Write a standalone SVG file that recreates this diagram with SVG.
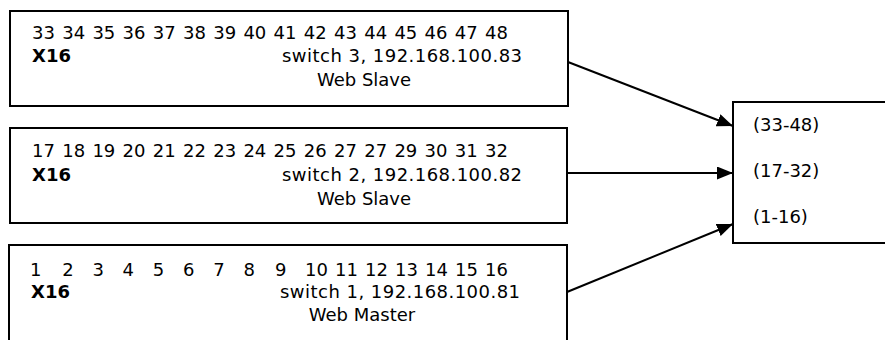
<svg xmlns="http://www.w3.org/2000/svg" width="885" height="340" viewBox="0 0 885 340">
<style>
.box{fill:#fff;stroke:#000;stroke-width:2}
.t{font-family:"DejaVu Sans","Verdana",sans-serif;font-size:18px;fill:#000}
.b{font-weight:bold}
.m{text-anchor:middle}
.c{stroke:#000;stroke-width:2;fill:none}
</style>
<defs>
<marker id="ah" markerUnits="userSpaceOnUse" markerWidth="17" markerHeight="14" refX="16" refY="6.5" orient="auto">
<path d="M0,0 L16,6.5 L0,13 z" fill="#000"/>
</marker>
</defs>
<rect width="885" height="340" fill="#fff"/>
<g id="switch3">
<rect class="box" x="10" y="11" width="558" height="95"/>
<text class="t" y="39"><tspan x="32">33</tspan><tspan x="62.2">34</tspan><tspan x="92.4">35</tspan><tspan x="122.6">36</tspan><tspan x="152.8">37</tspan><tspan x="183">38</tspan><tspan x="213.2">39</tspan><tspan x="243.4">40</tspan><tspan x="273.6">41</tspan><tspan x="303.8">42</tspan><tspan x="334">43</tspan><tspan x="364.2">44</tspan><tspan x="394.4">45</tspan><tspan x="424.6">46</tspan><tspan x="454.8">47</tspan><tspan x="485">48</tspan></text>
<text class="t b" x="32" y="62">X16</text>
<text class="t" x="282" y="62" textLength="240" lengthAdjust="spacing">switch 3, 192.168.100.83</text>
<text class="t m" x="364" y="86">Web Slave</text>
</g>
<g id="switch2">
<rect class="box" x="10" y="128" width="557" height="95"/>
<text class="t" y="157"><tspan x="32">17</tspan><tspan x="62.2">18</tspan><tspan x="92.4">19</tspan><tspan x="122.6">20</tspan><tspan x="152.8">21</tspan><tspan x="183">22</tspan><tspan x="213.2">23</tspan><tspan x="243.4">24</tspan><tspan x="273.6">25</tspan><tspan x="303.8">26</tspan><tspan x="334">27</tspan><tspan x="364.2">27</tspan><tspan x="394.4">29</tspan><tspan x="424.6">30</tspan><tspan x="454.8">31</tspan><tspan x="485">32</tspan></text>
<text class="t b" x="32" y="181">X16</text>
<text class="t" x="282" y="181" textLength="240" lengthAdjust="spacing">switch 2, 192.168.100.82</text>
<text class="t m" x="364" y="205">Web Slave</text>
</g>
<g id="switch1">
<rect class="box" x="9" y="245" width="558" height="110"/>
<text class="t" y="276"><tspan x="30">1</tspan><tspan x="62.2">2</tspan><tspan x="92.4">3</tspan><tspan x="122.6">4</tspan><tspan x="152.8">5</tspan><tspan x="183">6</tspan><tspan x="213.2">7</tspan><tspan x="243.4">8</tspan><tspan x="275">9</tspan><tspan x="305">10</tspan><tspan x="335">11</tspan><tspan x="365">12</tspan><tspan x="395">13</tspan><tspan x="425">14</tspan><tspan x="455">15</tspan><tspan x="485">16</tspan></text>
<text class="t b" x="31" y="298">X16</text>
<text class="t" x="280" y="298" textLength="240" lengthAdjust="spacing">switch 1, 192.168.100.81</text>
<text class="t m" x="362" y="321">Web Master</text>
</g>
<g id="target">
<rect class="box" x="733" y="102" width="170" height="141"/>
<text class="t" x="753" y="131">(33-48)</text>
<text class="t" x="753" y="177">(17-32)</text>
<text class="t" x="753" y="223">(1-16)</text>
</g>
<g id="connectors">
<line class="c" x1="568" y1="62" x2="733" y2="126" marker-end="url(#ah)"/>
<line class="c" x1="567" y1="173" x2="733" y2="173" marker-end="url(#ah)"/>
<line class="c" x1="567" y1="292" x2="733" y2="224" marker-end="url(#ah)"/>
</g>
</svg>
